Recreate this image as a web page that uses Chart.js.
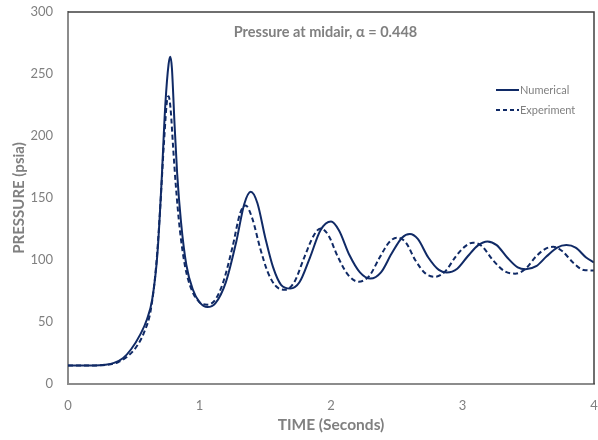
<!DOCTYPE html>
<html>
<head>
<meta charset="utf-8">
<script src="https://cdn.jsdelivr.net/npm/chart.js@4.4.1/dist/chart.umd.min.js"></script>
<style>
html,body{margin:0;padding:0;background:#fff;}
#wrap{width:598px;height:440px;position:relative;}
</style>
</head>
<body>
<div id="wrap"><canvas id="c" width="598" height="440"></canvas></div>
<script>
const chartTitle = "Pressure at midair, \u03B1 = 0.448";
const xAxisTitle = "TIME (Seconds)";
const yAxisTitle = "PRESSURE (psia)";
const seriesNames = ["Numerical", "Experiment"];

const timeNum = [0,0.1,0.2,0.28,0.35,0.42,0.48,0.55,0.6,0.64,0.68,0.71,0.74,0.765,0.778,0.79,0.81,0.83,0.86,0.9,0.95,1.0,1.06,1.12,1.2,1.28,1.34,1.39,1.44,1.5,1.56,1.62,1.69,1.76,1.84,1.92,2.0,2.06,2.14,2.22,2.3,2.38,2.46,2.54,2.6,2.66,2.74,2.82,2.88,2.96,3.04,3.12,3.19,3.26,3.34,3.42,3.48,3.56,3.64,3.72,3.79,3.86,3.94,4.0];
const pressureNum = [15,15,15,15.5,17,21,28,40,52,68,105,160,225,258,264,255,210,170,130,96,76,66,62,65,82,115,145,155,146,118,94,80,77,82,102,124,131,124,104,90,85,90,105,118,121,117,102,92,90,93,103,112,115,112,102,94,92.5,95,103,110,112,110,102,98];

const timeExp = [0,0.1,0.2,0.3,0.38,0.45,0.52,0.58,0.63,0.67,0.7,0.73,0.755,0.765,0.78,0.8,0.82,0.85,0.89,0.94,1.0,1.06,1.12,1.18,1.25,1.31,1.35,1.4,1.46,1.52,1.58,1.65,1.72,1.8,1.87,1.92,1.98,2.05,2.13,2.21,2.29,2.37,2.44,2.5,2.57,2.64,2.72,2.79,2.87,2.95,3.02,3.08,3.15,3.23,3.32,3.4,3.48,3.56,3.63,3.69,3.76,3.84,3.92,4.0];
const pressureExp = [15,15,15,15.5,17.5,22,30,42,60,95,140,195,230,232,222,190,160,125,95,76,66,64,68,82,110,138,144,134,110,90,79,76,82,103,120,125.5,120,103,88,82.5,87,102,114,118,114,100,89,86.5,91,103,111,114,111,100,91,89,93,103,109,110.7,107,98,92,91.5];

const xTicks = [0,1,2,3,4];
const yTicks = [0,50,100,150,200,250,300];

const lineColor = '#102a66';
const grayText = '#808080';
const FONT = 'Lato, "Open Sans", sans-serif';

const toPts = (xs, ys) => xs.map((x, i) => ({x: x, y: ys[i]}));

const framePlugin = {
  id: 'frame',
  afterDraw(chart) {
    const {ctx, chartArea: a} = chart;
    ctx.save();
    ctx.strokeStyle = '#404040';
    ctx.lineWidth = 1.5;
    ctx.beginPath();
    ctx.moveTo(a.left, a.top);
    ctx.lineTo(a.right, a.top);
    ctx.lineTo(a.right, a.bottom);
    ctx.stroke();
    ctx.fillStyle = grayText;
    ctx.font = 'bold 14.5px ' + FONT;
    ctx.textAlign = 'center';
    ctx.textBaseline = 'middle';
    ctx.fillText(chartTitle, 325.5, a.top + 20);
    const lx = 496, ly1 = 90, ly2 = 110;
    ctx.strokeStyle = lineColor;
    ctx.lineWidth = 2;
    ctx.beginPath(); ctx.moveTo(lx, ly1); ctx.lineTo(lx + 23, ly1); ctx.stroke();
    ctx.setLineDash([4, 3]);
    ctx.beginPath(); ctx.moveTo(lx, ly2); ctx.lineTo(lx + 23, ly2); ctx.stroke();
    ctx.setLineDash([]);
    ctx.fillStyle = grayText;
    ctx.font = '11px ' + FONT;
    ctx.textAlign = 'left';
    ctx.fillText(seriesNames[0], lx + 24, ly1);
    ctx.fillText(seriesNames[1], lx + 24, ly2);
    ctx.restore();
  }
};

new Chart(document.getElementById('c'), {
  type: 'line',
  data: {
    datasets: [
      {
        label: seriesNames[0],
        data: toPts(timeNum, pressureNum),
        borderColor: lineColor,
        borderWidth: 2,
        pointRadius: 0,
        cubicInterpolationMode: 'monotone',
        fill: false
      },
      {
        label: seriesNames[1],
        data: toPts(timeExp, pressureExp),
        borderColor: lineColor,
        borderWidth: 2,
        borderDash: [5, 3],
        pointRadius: 0,
        cubicInterpolationMode: 'monotone',
        fill: false
      }
    ]
  },
  options: {
    responsive: false,
    animation: false,
    devicePixelRatio: 1,
    layout: {padding: {left: 0, right: 4, top: 12, bottom: 0}},
    plugins: {
      legend: {display: false},
      tooltip: {enabled: false},
      title: {display: false}
    },
    scales: {
      x: {
        type: 'linear',
        min: 0, max: 4,
        afterBuildTicks(s) { s.ticks = xTicks.map(v => ({value: v})); },
        afterFit(s) { s.height = 56; s.paddingLeft = 0; s.paddingRight = 0; },
        grid: {display: false, drawTicks: false},
        border: {display: true, color: '#8c8c8c', width: 2},
        ticks: {color: grayText, font: {family: FONT, size: 13}, padding: 14, maxRotation: 0},
        title: {display: true, text: xAxisTitle, color: grayText, font: {family: FONT, size: 15.5, weight: 'bold'}, padding: {top: 0, bottom: 6}}
      },
      y: {
        type: 'linear',
        min: 0, max: 300,
        afterBuildTicks(s) { s.ticks = yTicks.map(v => ({value: v})); },
        afterFit(s) { s.width = 68; s.paddingTop = 0; s.paddingBottom = 0; },
        grid: {display: false, drawTicks: false},
        border: {display: true, color: '#8c8c8c', width: 2},
        ticks: {color: grayText, font: {family: FONT, size: 13}, padding: 15},
        title: {display: true, text: yAxisTitle, color: grayText, font: {family: FONT, size: 15, weight: 'bold'}, padding: {top: 10, bottom: 0}}
      }
    }
  },
  plugins: [framePlugin]
});
</script>
</body>
</html>
